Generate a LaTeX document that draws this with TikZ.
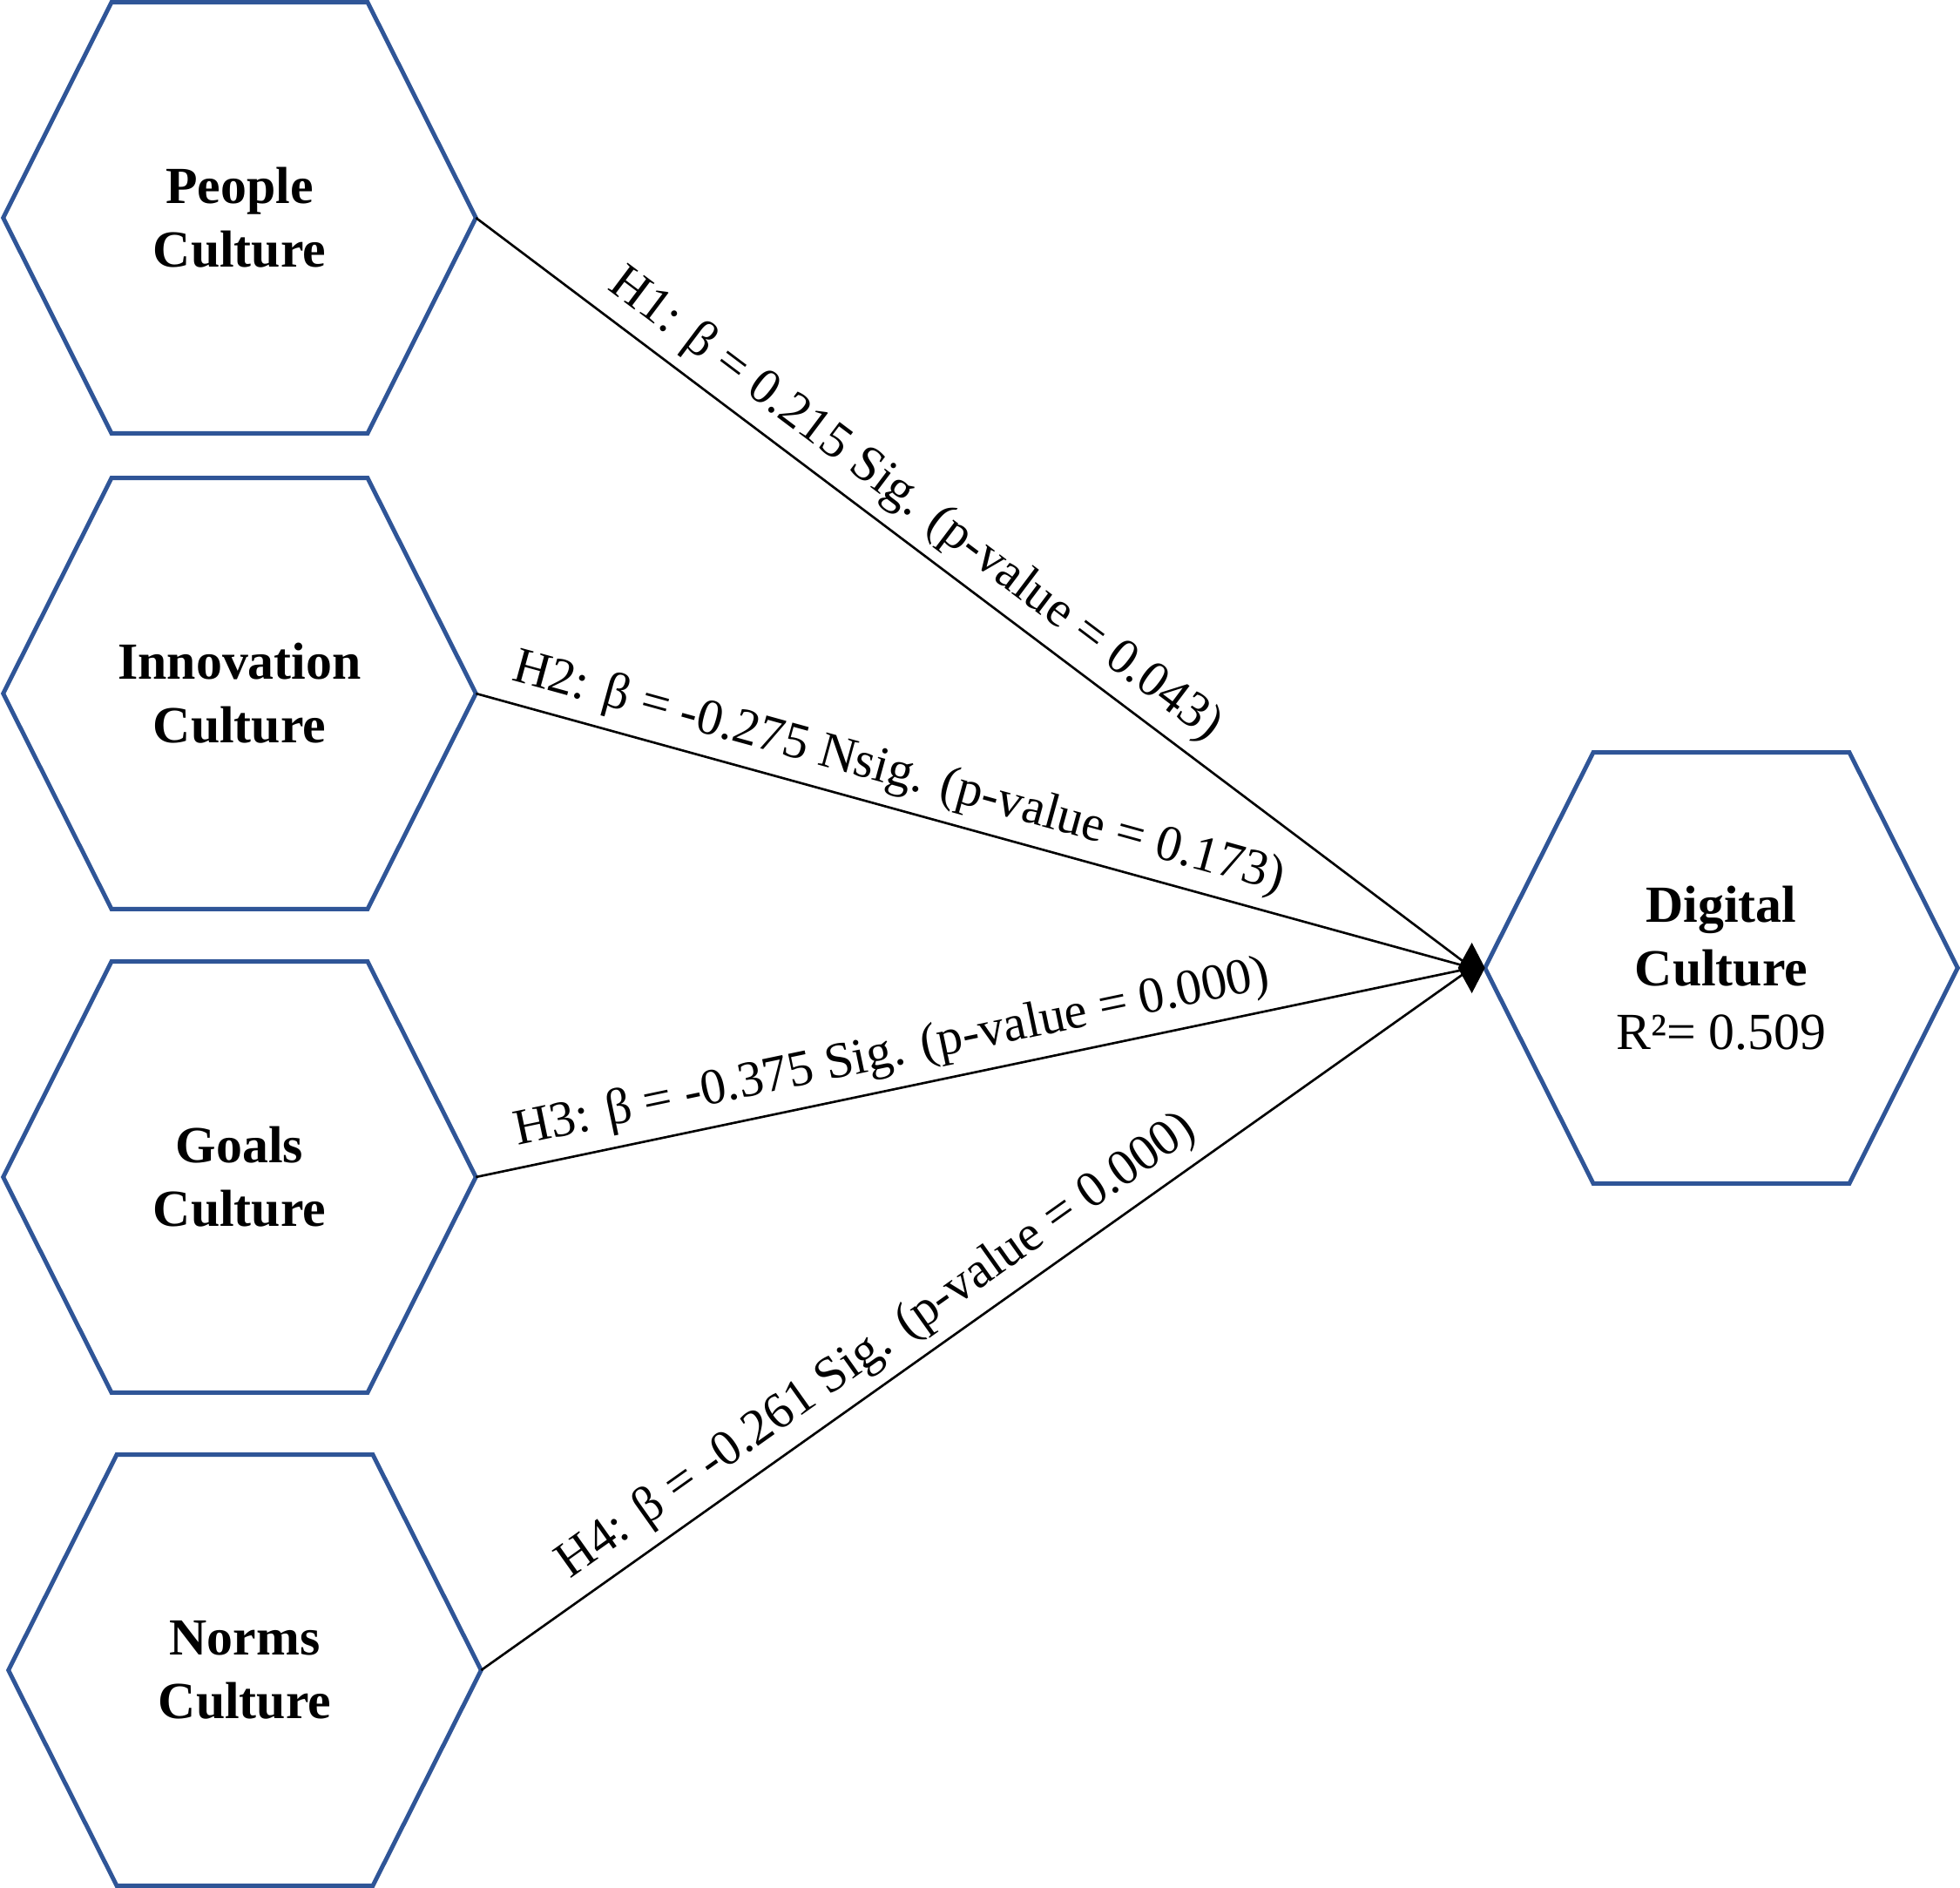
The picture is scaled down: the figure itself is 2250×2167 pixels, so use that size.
\documentclass[tikz,border=0pt]{standalone}
\usepackage{fontspec}
\setmainfont{Liberation Serif}
\usepackage{tikz}
\usetikzlibrary{calc, arrows.meta}
\definecolor{hexblue}{RGB}{47,85,151}

\begin{document}
\begin{tikzpicture}[x=0.01cm,y=-0.01cm,
  hexnode/.style={minimum width=5.41cm,minimum height=4.93cm,inner sep=0pt,align=center,font=\fontsize{17}{20.7}\selectfont\bfseries},
  hexline/.style={hexblue,line width=1.4pt,line join=miter},
  hyp/.style={black,line width=0.75pt},
  hyplabel/.style={sloped,above,font=\fontsize{16.6}{20}\selectfont}]
  \useasboundingbox (0,0) rectangle (2250,2167);
  \node[hexnode] (people) at (275,250) {People\\Culture}; %H1
  \node[hexnode] (innov) at (275,796) {Innovation\\Culture}; %H2
  \node[hexnode] (goals) at (275,1351) {Goals\\Culture}; %H3
  \node[hexnode] (norms) at (281,1917) {Norms\\Culture}; %H4
  \node[hexnode] (digital) at (1976,1111) {Digital\\Culture\\{\mdseries R²= 0.509}}; %従属変数
  \foreach \n in {people,innov,goals,norms,digital}
    \draw[hexline] (\n.west) -- ($(\n.north)+(-147,0)$) -- ($(\n.north)+(147,0)$) -- (\n.east)
      -- ($(\n.south)+(147,0)$) -- ($(\n.south)+(-147,0)$) -- cycle; %六角形
  \coordinate (tip) at ($(digital.west)+(-15,0)$);
  \draw[hyp] (people.east) -- (tip) node[hyplabel,pos=0.42] {H1: β = 0.215 Sig. (p-value = 0.043)};
  \draw[hyp] (innov.east) -- (tip) node[hyplabel,pos=0.415] {H2: β = -0.275 Nsig. (p-value = 0.173)};
  \draw[hyp] (goals.east) -- (tip) node[hyplabel,pos=0.425] {H3: β = -0.375 Sig. (p-value = 0.000)};
  \draw[hyp] (norms.east) -- (tip) node[hyplabel,pos=0.42] {H4: β = -0.261 Sig. (p-value = 0.000)};
  \fill ($(tip)+(-16,0)$) -- ($(tip)+(0,-29)$) -- ($(tip)+(15,0)$) -- ($(tip)+(0,29)$) -- cycle; %矢印
\end{tikzpicture}
\end{document}
